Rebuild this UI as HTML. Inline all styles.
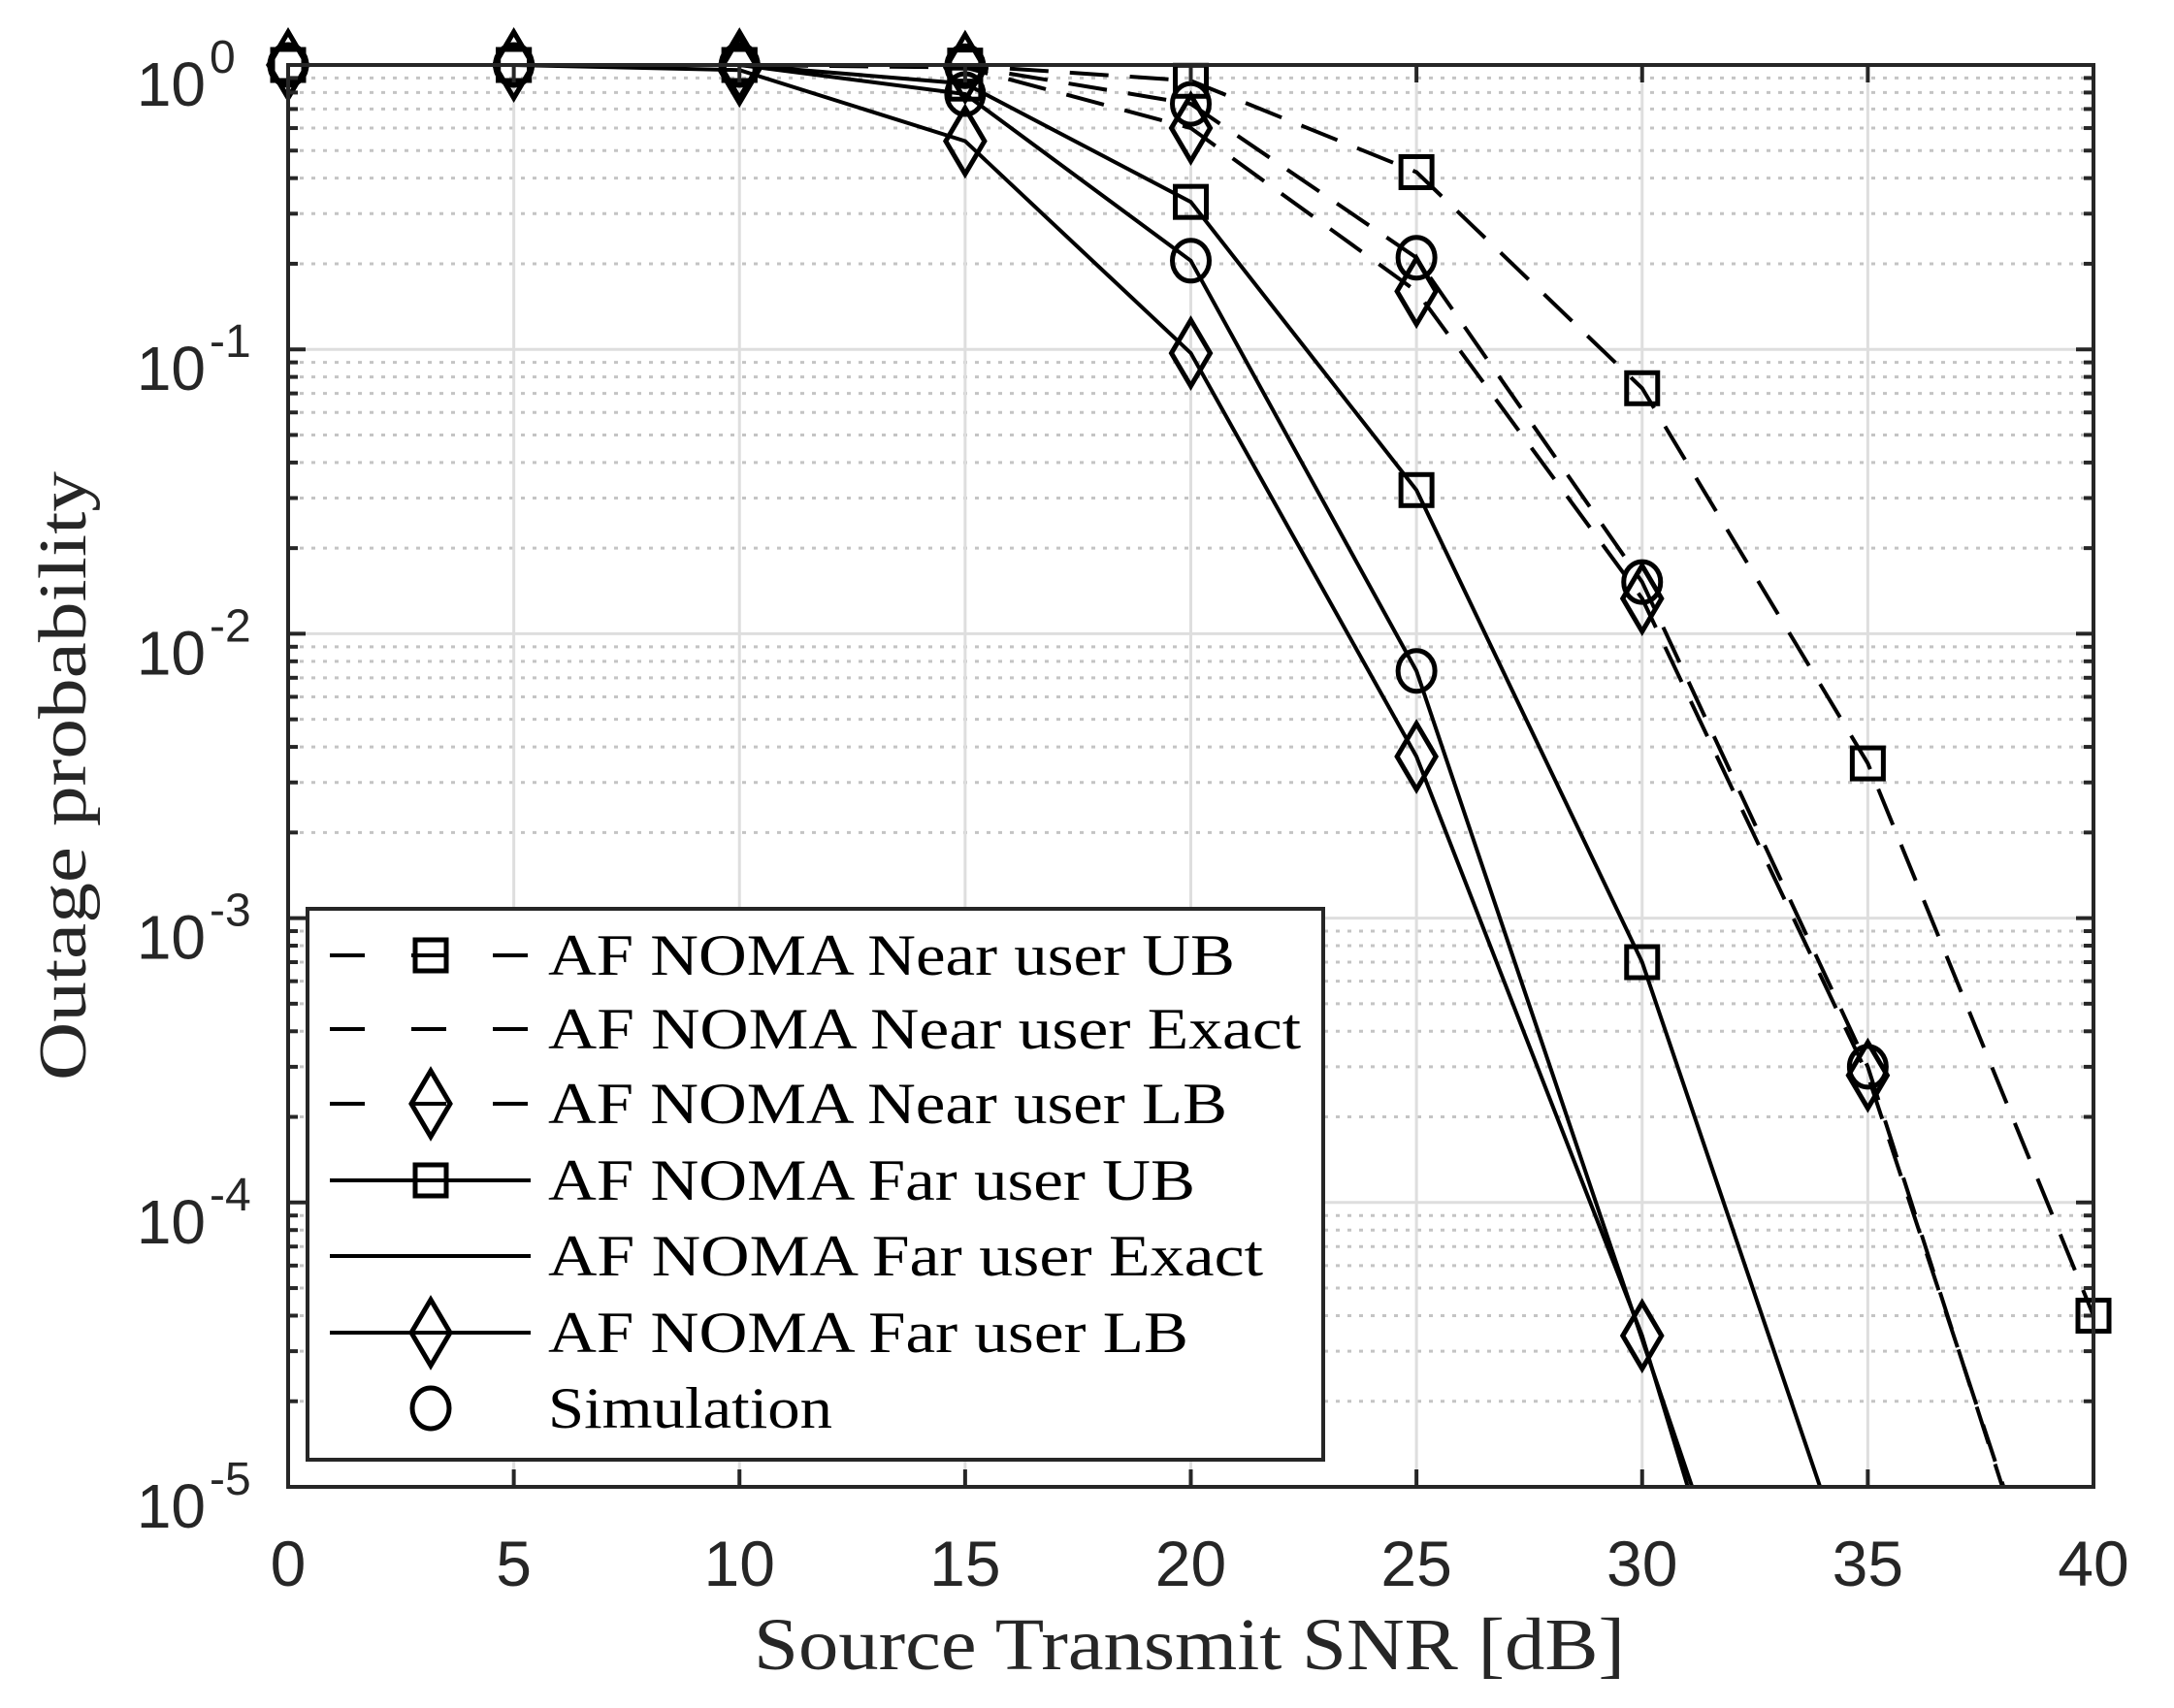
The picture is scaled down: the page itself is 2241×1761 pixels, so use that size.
<!DOCTYPE html>
<html><head><meta charset="utf-8">
<style>html,body{margin:0;padding:0;background:#fff;overflow:hidden;width:2241px;height:1761px}svg{display:block}</style>
</head><body>
<svg id="s" width="2241" height="1761" viewBox="0 0 2241 1761" xmlns="http://www.w3.org/2000/svg">
<defs><clipPath id="c"><rect x="297" y="67" width="1861" height="1466"/></clipPath></defs>
<g id="grid"></g>
<g id="lines" clip-path="url(#c)" fill="none" stroke="#000" stroke-width="4"></g>
<g id="marks" fill="none" stroke="#000" stroke-width="5"></g>
<g id="axes"></g>
<g font-family="'Liberation Sans',sans-serif" fill="#262626" id="ticks"></g>
<text x="1226" y="1721" font-family="'Liberation Serif',serif" font-size="76" fill="#262626" text-anchor="middle" textLength="898" lengthAdjust="spacingAndGlyphs">Source Transmit SNR [dB]</text>
<text transform="translate(88,800) rotate(-90)" font-family="'Liberation Serif',serif" font-size="70" fill="#262626" text-anchor="middle" textLength="628" lengthAdjust="spacingAndGlyphs">Outage probability</text>
<g id="legend"></g>
</svg>
<script>
const NS="http://www.w3.org/2000/svg";
function el(p,t,a,txt){const e=document.createElementNS(NS,t);for(const k in a)e.setAttribute(k,a[k]);if(txt!=null)e.textContent=txt;document.getElementById(p).appendChild(e);return e;}
const X0=297,X1=2158,Y0=67,Y1=1533,DEC=293.2;
const X=s=>X0+(X1-X0)*s/40, Y=v=>Y0-Math.log10(v)*DEC;
for(let d=0;d<5;d++)for(let m=2;m<10;m++){const y=Y(Math.pow(10,-d-1)*m);
 el('grid','line',{x1:X0,x2:X1,y1:y,y2:y,stroke:'#c4c4c4','stroke-width':3,'stroke-dasharray':'4 8'});}
for(let d=1;d<5;d++){const y=Y(Math.pow(10,-d));el('grid','line',{x1:X0,x2:X1,y1:y,y2:y,stroke:'#dedede','stroke-width':3});}
for(let s=5;s<40;s+=5){el('grid','line',{x1:X(s),x2:X(s),y1:Y0,y2:Y1,stroke:'#dedede','stroke-width':3});}
const S=[0,5,10,15,20,25,30,35,40];
const nearUB=[1,1,1,0.995,0.88,0.42,0.073,0.0035,4.0e-5];
const nearEx=[1,1,1,0.99,0.73,0.21,0.0152,3.0e-4,1.0e-6];
const nearLB=[1,1,1,0.98,0.6,0.16,0.0133,2.8e-4,1.1e-6];
const farUB=[1,1,1,0.86,0.33,0.032,7e-4,3.2e-6,1e-8];
const farEx=[1,1,1,0.79,0.205,0.0074,3.3e-5,1.5e-7,1e-10];
const farLB=[1,1,0.96,0.54,0.097,0.0037,3.4e-5,8e-8,1e-11];
const sim=[[0,1],[5,1],[10,1],[15,0.79],[20,0.205],[25,0.0074],[15,0.99],[20,0.73],[25,0.21],[30,0.0152],[35,3e-4]];
function line(v,dash){el('lines','polyline',{points:S.map((s,i)=>X(s)+','+Y(v[i])).join(' '),'stroke-dasharray':dash?'40 22':'none'});}
[nearUB,nearEx,nearLB].forEach(v=>line(v,true));[farUB,farEx,farLB].forEach(v=>line(v,false));
function sq(g,x,y){el(g,'rect',{x:x-16,y:y-16,width:32,height:32,fill:'none',stroke:'#000','stroke-width':5});}
function dm(g,x,y){el(g,'polygon',{points:`${x},${y-34} ${x+20},${y} ${x},${y+34} ${x-20},${y}`,fill:'none',stroke:'#000','stroke-width':5});}
function ci(g,x,y){el(g,'ellipse',{cx:x,cy:y,rx:19,ry:21,fill:'none',stroke:'#000','stroke-width':5});}
function mk(v,f){S.forEach((s,i)=>{if(v[i]>=9e-6)f('marks',X(s),Y(v[i]));});}
mk(nearUB,sq);mk(farUB,sq);mk(nearLB,dm);mk(farLB,dm);
sim.forEach(p=>ci('marks',X(p[0]),Y(p[1])));
el('axes','rect',{x:X0,y:Y0,width:X1-X0,height:Y1-Y0,fill:'none',stroke:'#262626','stroke-width':4});
for(let s=0;s<=40;s+=5){const x=X(s);
 el('axes','line',{x1:x,x2:x,y1:Y1,y2:Y1-18,stroke:'#262626','stroke-width':4});
 el('axes','line',{x1:x,x2:x,y1:Y0,y2:Y0+18,stroke:'#262626','stroke-width':4});
 el('ticks','text',{x:x,y:1635,'font-size':66,'text-anchor':'middle'},String(s));}
for(let d=0;d<=5;d++){const y=Y(Math.pow(10,-d));
 el('axes','line',{x1:X0,x2:X0+18,y1:y,y2:y,stroke:'#262626','stroke-width':4});
 el('axes','line',{x1:X1,x2:X1-18,y1:y,y2:y,stroke:'#262626','stroke-width':4});
 el('ticks','text',{x:212,y:y+42,'font-size':64,'text-anchor':'end'},'10');
 el('ticks','text',{x:216,y:y+8,'font-size':48},d==0?'0':'-'+d);
 if(d<5)for(let m=2;m<10;m++){const yy=Y(Math.pow(10,-d-1)*m);
  el('axes','line',{x1:X0,x2:X0+10,y1:yy,y2:yy,stroke:'#262626','stroke-width':4});
  el('axes','line',{x1:X1,x2:X1-10,y1:yy,y2:yy,stroke:'#262626','stroke-width':4});}}
el('legend','rect',{x:317,y:937,width:1047,height:568,fill:'#fff',stroke:'#262626','stroke-width':4});
const rows=[["AF NOMA Near user UB",'d','sq',708],["AF NOMA Near user Exact",'d',null,776],["AF NOMA Near user LB",'d','dm',700],
["AF NOMA Far user UB",'s','sq',667],["AF NOMA Far user Exact",'s',null,737],["AF NOMA Far user LB",'s','dm',660],["Simulation",null,'ci',293]];
const ry=[985,1061,1138,1217,1295,1374,1452];
rows.forEach((r,i)=>{const y=ry[i];
 if(r[1]=='d')el('legend','line',{x1:340,x2:547,y1:y,y2:y,stroke:'#000','stroke-width':4,'stroke-dasharray':'36 48'});
 if(r[1]=='s')el('legend','line',{x1:340,x2:547,y1:y,y2:y,stroke:'#000','stroke-width':4});
 if(r[2]=='sq')sq('legend',444,y);if(r[2]=='dm')dm('legend',444,y);if(r[2]=='ci')ci('legend',444,y);
 el('legend','text',{x:565,y:y+20,'font-family':"'Liberation Serif',serif",'font-size':60,fill:'#000',textLength:r[3],lengthAdjust:'spacingAndGlyphs'},r[0]);});
</script>
</body></html>
